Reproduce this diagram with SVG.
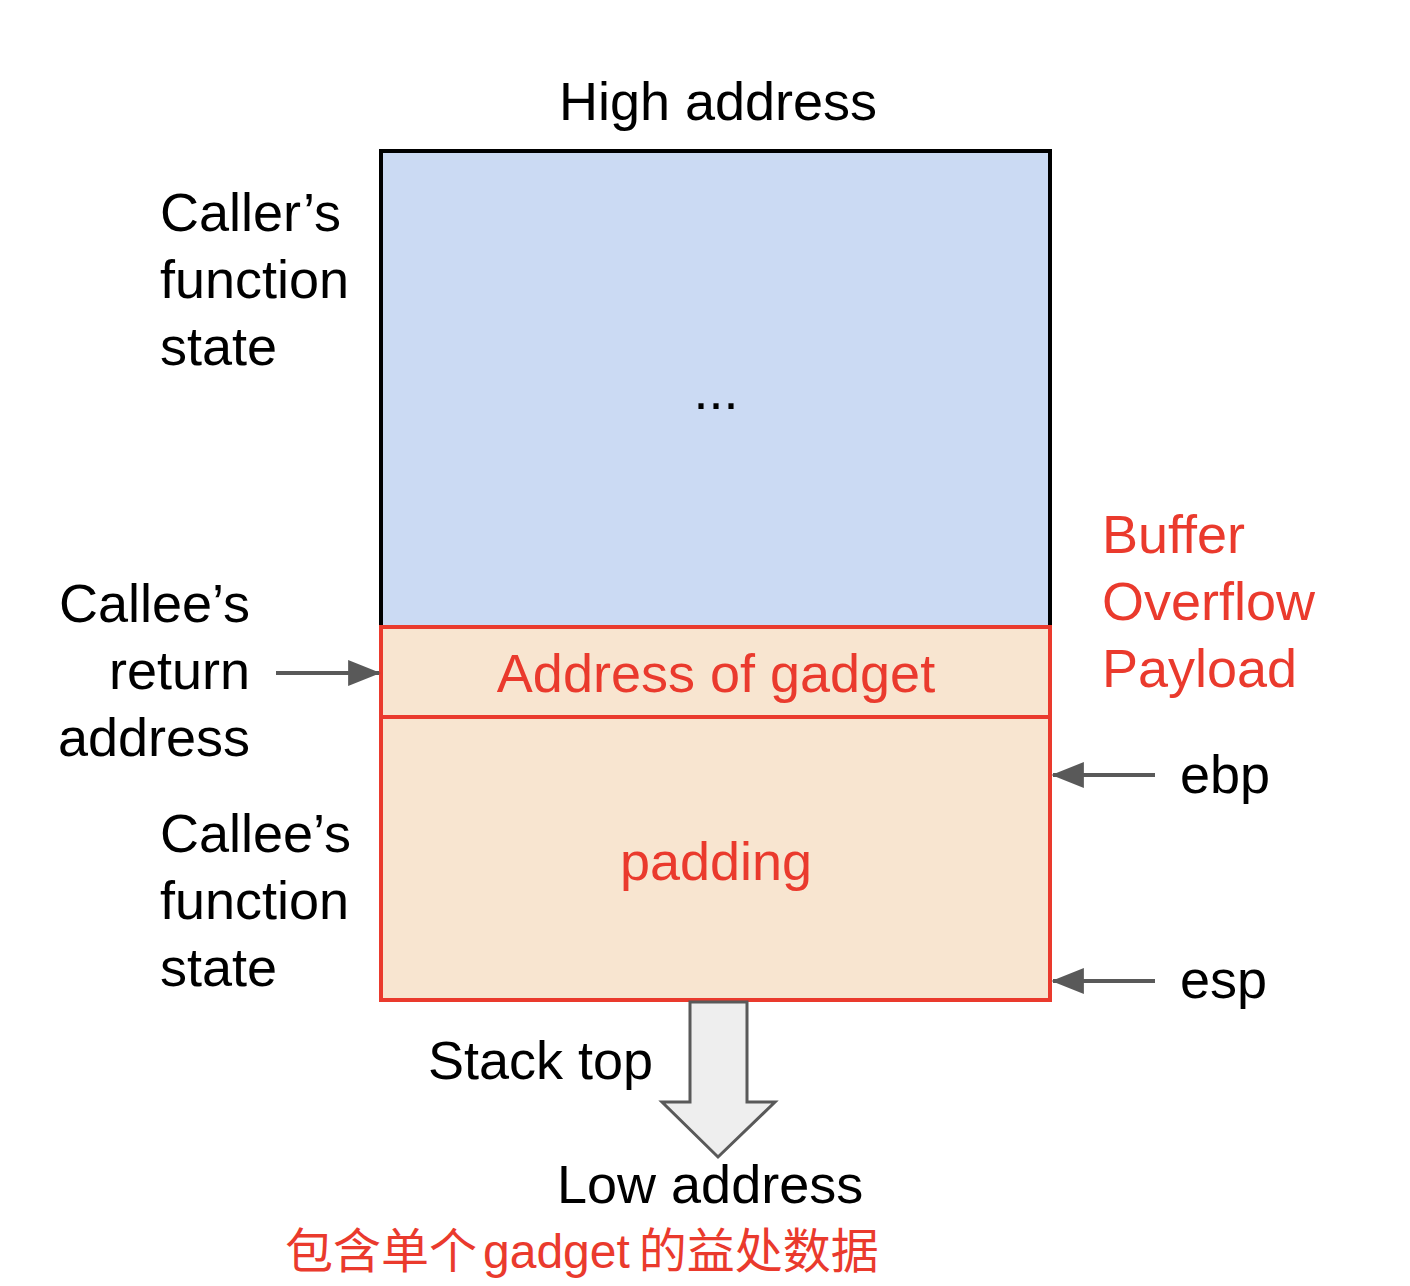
<svg xmlns="http://www.w3.org/2000/svg" width="1410" height="1286" viewBox="0 0 1410 1286">
<style>
.t{font-family:"Liberation Sans",Arial,sans-serif;font-size:54px;fill:#000}
.r{fill:#ea3a2d}
.c{text-anchor:middle}
.e{text-anchor:end}
.ar{stroke:#595959;stroke-width:4;fill:none}
.cjk{font-family:"Noto Sans CJK SC","Noto Sans",sans-serif;font-size:48px;fill:#ea3a2d}
.lat{font-family:"Liberation Sans",Arial,sans-serif}
</style>
<defs>
<marker id="ah2" viewBox="0 0 10 8" refX="9.5" refY="4" markerWidth="34" markerHeight="26" orient="auto" markerUnits="userSpaceOnUse">
<path d="M0,0 L10,4 L0,8 Z" fill="#595959"/>
</marker>
</defs>
<rect width="1410" height="1286" fill="#fff"/>
<g id="caller-state">
<rect x="381" y="151" width="669" height="476" fill="#cbdaf3" stroke="#000" stroke-width="4"/>
<text class="t c" x="716" y="409">...</text>
</g>
<g id="return-address">
<rect x="381" y="627" width="669" height="90" fill="#f8e5d0" stroke="#ea3a2d" stroke-width="4"/>
<text class="t r c" x="716" y="692">Address of gadget</text>
</g>
<g id="padding">
<rect x="381" y="717" width="669" height="283" fill="#f8e5d0" stroke="#ea3a2d" stroke-width="4"/>
<text class="t r c" x="716" y="880">padding</text>
</g>
<g id="stack-arrow">
<path d="M690,1002 L747,1002 L747,1102 L775,1102 L718,1157 L662,1102 L690,1102 Z" fill="#eeeeee" stroke="#595959" stroke-width="3"/>
</g>
<g id="connectors">
<line class="ar" x1="276" y1="673" x2="379" y2="673" marker-end="url(#ah2)"/>
<line class="ar" x1="1155" y1="775" x2="1053" y2="775" marker-end="url(#ah2)"/>
<line class="ar" x1="1155" y1="981" x2="1053" y2="981" marker-end="url(#ah2)"/>
</g>
<g id="labels">
<text class="t c" x="718" y="120">High address</text>
<text class="t" x="160" y="231">Caller’s</text>
<text class="t" x="160" y="298">function</text>
<text class="t" x="160" y="365">state</text>
<text class="t e" x="250" y="622">Callee’s</text>
<text class="t e" x="250" y="689">return</text>
<text class="t e" x="250" y="756">address</text>
<text class="t" x="160" y="852">Callee’s</text>
<text class="t" x="160" y="919">function</text>
<text class="t" x="160" y="986">state</text>
<text class="t r" x="1102" y="553">Buffer</text>
<text class="t r" x="1102" y="620">Overflow</text>
<text class="t r" x="1102" y="687">Payload</text>
<text class="t" x="1180" y="793">ebp</text>
<text class="t" x="1180" y="998">esp</text>
<text class="t" x="428" y="1079">Stack top</text>
<text class="t" x="557" y="1203">Low address</text>
<text class="cjk" x="285" y="1268">包含单个<tspan class="lat" dx="6">gadget</tspan><tspan dx="9">的益处数据</tspan></text>
</g>
</svg>
